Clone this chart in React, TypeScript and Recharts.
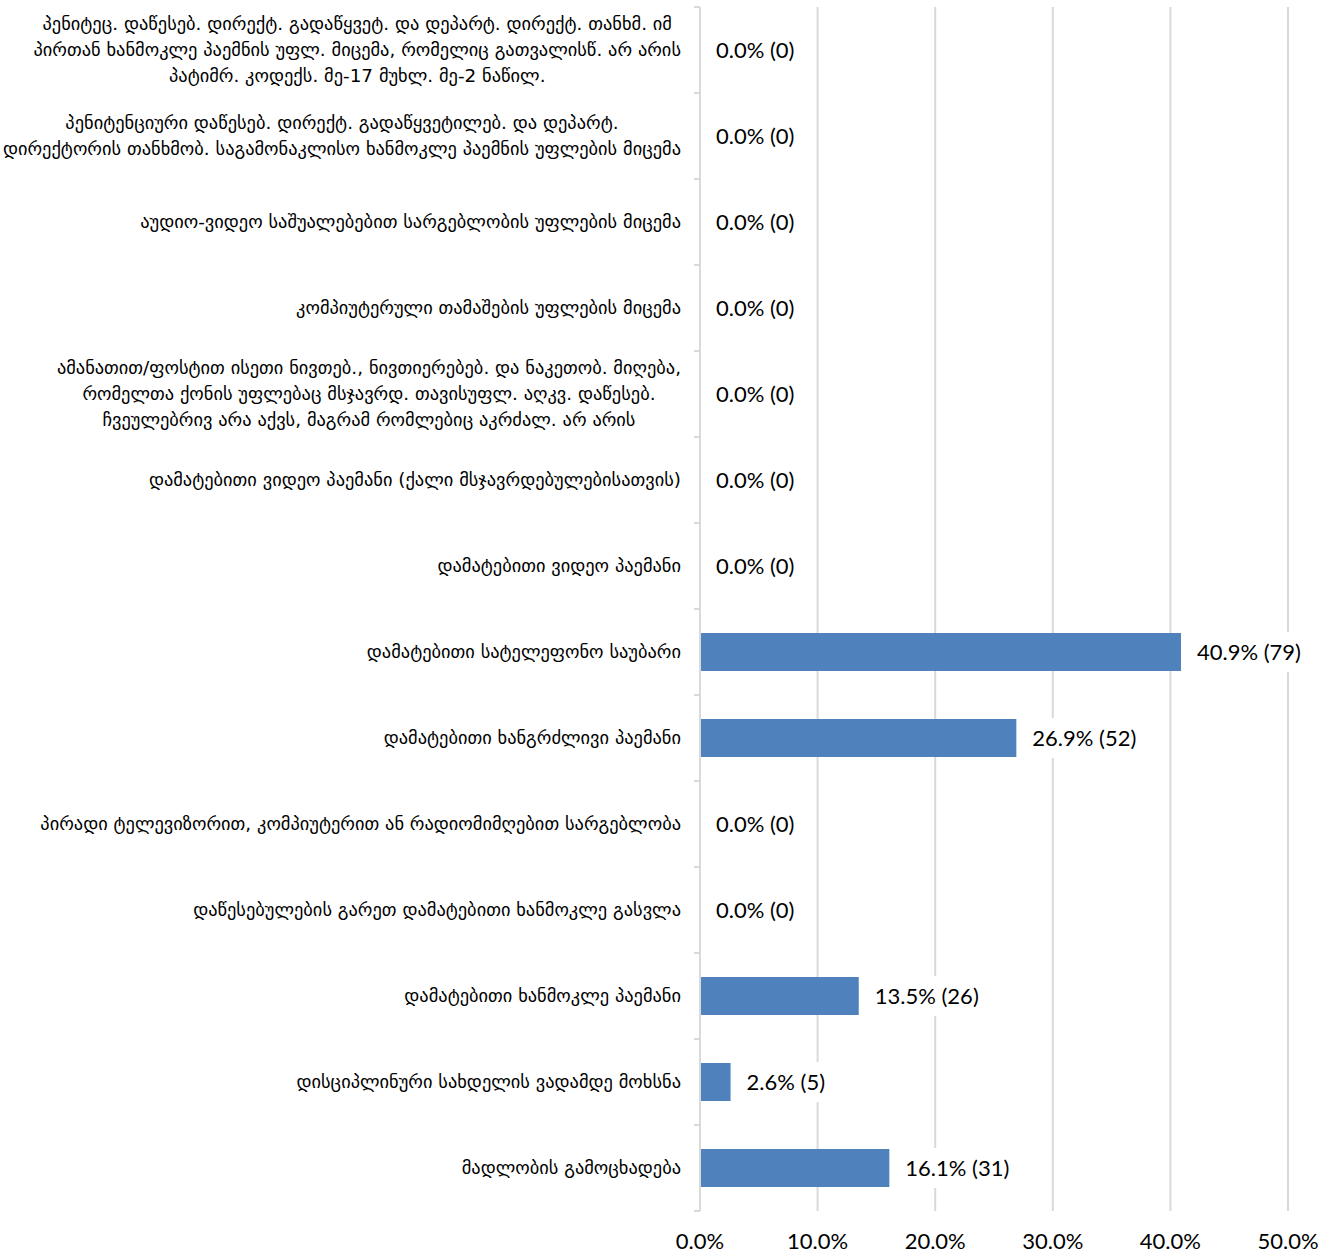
import React from 'react';
import { ComposedChart, Bar, Line, XAxis, YAxis, CartesianGrid, LabelList } from 'recharts';

// კატეგორიები (ზემოდან ქვემოთ), ხაზის გადატანით როგორც ორიგინალში
const categories = [
  'პენიტეც. დაწესებ. დირექტ. გადაწყვეტ. და დეპარტ. დირექტ. თანხმ. იმ\nპირთან ხანმოკლე პაემნის უფლ. მიცემა, რომელიც გათვალისწ. არ არის\nპატიმრ. კოდექს. მე-17 მუხლ. მე-2 ნაწილ.',
  'პენიტენციური დაწესებ. დირექტ. გადაწყვეტილებ. და დეპარტ.\nდირექტორის თანხმობ. საგამონაკლისო ხანმოკლე პაემნის უფლების მიცემა',
  'აუდიო-ვიდეო საშუალებებით სარგებლობის უფლების მიცემა',
  'კომპიუტერული თამაშების უფლების მიცემა',
  'ამანათით/ფოსტით ისეთი ნივთებ., ნივთიერებებ. და ნაკეთობ. მიღება,\nრომელთა ქონის უფლებაც მსჯავრდ. თავისუფლ. აღკვ. დაწესებ.\nჩვეულებრივ არა აქვს, მაგრამ რომლებიც აკრძალ. არ არის',
  'დამატებითი ვიდეო პაემანი (ქალი მსჯავრდებულებისათვის)',
  'დამატებითი ვიდეო პაემანი',
  'დამატებითი სატელეფონო საუბარი',
  'დამატებითი ხანგრძლივი პაემანი',
  'პირადი ტელევიზორით, კომპიუტერით ან რადიომიმღებით სარგებლობა',
  'დაწესებულების გარეთ დამატებითი ხანმოკლე გასვლა',
  'დამატებითი ხანმოკლე პაემანი',
  'დისციპლინური სახდელის ვადამდე მოხსნა',
  'მადლობის გამოცხადება',
];

const percents = [0, 0, 0, 0, 0, 0, 0, 40.9, 26.9, 0, 0, 13.5, 2.6, 16.1];
const counts = [0, 0, 0, 0, 0, 0, 0, 79, 52, 0, 0, 26, 5, 31];
const xTicks = [0, 10, 20, 30, 40, 50];

const data = categories.map((name, i) => ({
  name,
  value: percents[i],
  label: `${percents[i].toFixed(1)}% (${counts[i]})`,
}));

const W = 1330;
const H = 1254;
const TOP = 7;
const BOTTOM = 43;
const BAND = (H - TOP - BOTTOM) / categories.length;
const LABEL_SIZE = 18.4;
const NUM_SIZE = 22;

let ctx: CanvasRenderingContext2D | null = null;
const measure = (s: string, font: string) => {
  if (!ctx) ctx = document.createElement('canvas').getContext('2d');
  if (!ctx) return s.length * 10;
  ctx.font = font;
  return ctx.measureText(s).width;
};

const CategoryTick = (props: any) => {
  const { x, y, payload, index } = props;
  const lines: string[] = String(payload.value).split('\n');
  const maxW = Math.max(...lines.map((l) => measure(l, `${LABEL_SIZE}px 'DejaVu Sans'`)));
  const right = x - 19;
  const cx = right - maxW / 2;
  const lh = 26;
  const y0 = y - ((lines.length - 1) * lh) / 2;
  return (
    <g>
      <line x1={x - 6} x2={x} y1={y - BAND / 2} y2={y - BAND / 2} stroke="#d9d9d9" strokeWidth={2} />
      {index === categories.length - 1 && (
        <line x1={x - 6} x2={x} y1={y + BAND / 2} y2={y + BAND / 2} stroke="#d9d9d9" strokeWidth={2} />
      )}
      <text textAnchor="middle" fontFamily="'DejaVu Sans', sans-serif" fontSize={LABEL_SIZE} fill="#000">
        {lines.map((l, i) => (
          <tspan key={i} x={cx} y={y0 + i * lh} dy="0.35em">
            {l}
          </tspan>
        ))}
      </text>
    </g>
  );
};

// მონაცემთა იარლიყი თეთრი ფონით (ბადის ხაზები ქვეშ იმალება)
const ValueLabel = (props: any) => {
  const { x, y, value } = props;
  const text = String(value);
  const tx = x + 16;
  const w = measure(text, `${NUM_SIZE}px Lato`);
  return (
    <g>
      <rect x={tx - 4} y={y - 20} width={w + 8} height={40} fill="#fff" />
      <text
        x={tx}
        y={y}
        dy="0.35em"
        fontFamily="Lato, sans-serif"
        fontSize={NUM_SIZE}
        fill="#000"
      >
        {text}
      </text>
    </g>
  );
};

const App: React.FC = () => {
  return (
    <div style={{ position: 'absolute', left: 0, top: 0, width: W, height: H, background: '#fff' }}>
      <ComposedChart
        width={W}
        height={H}
        data={data}
        layout="vertical"
        margin={{ top: TOP, right: 42, bottom: 0, left: 0 }}
      >
        <CartesianGrid horizontal={false} stroke="#d9d9d9" strokeWidth={2} />
        <XAxis
          type="number"
          domain={[0, 50]}
          ticks={xTicks}
          tickFormatter={(v: number) => `${v.toFixed(1)}%`}
          axisLine={false}
          tickLine={false}
          tickMargin={16}
          height={BOTTOM}
          tick={{ fontFamily: 'Lato, sans-serif', fontSize: NUM_SIZE, fill: '#000' }}
        />
        <YAxis
          type="category"
          dataKey="name"
          width={700}
          axisLine={{ stroke: '#d9d9d9', strokeWidth: 2 }}
          tickLine={false}
          tickSize={0}
          tickMargin={0}
          interval={0}
          tick={<CategoryTick />}
        />
        <Bar dataKey="value" fill="#4f81bd" barSize={38} isAnimationActive={false} />
        <Line dataKey="value" stroke="none" dot={false} activeDot={false} isAnimationActive={false}>
          <LabelList dataKey="label" content={<ValueLabel />} />
        </Line>
      </ComposedChart>
    </div>
  );
};

export default App;
